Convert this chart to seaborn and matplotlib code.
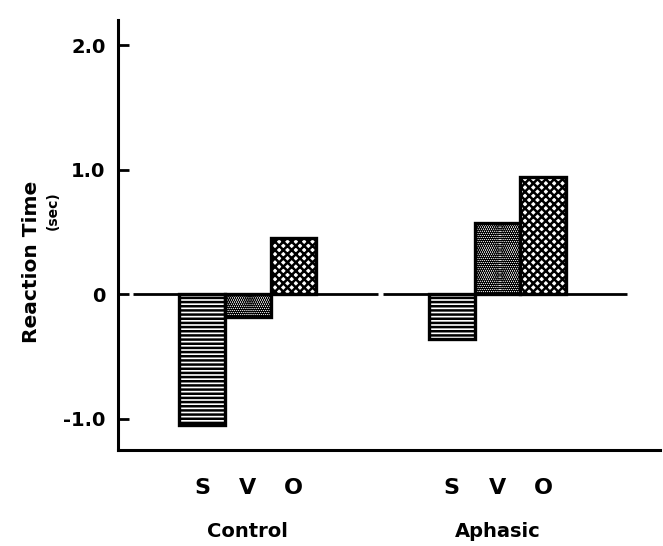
import pandas as pd
import matplotlib
matplotlib.use('Agg')
import matplotlib.pyplot as plt
import seaborn as sns

# Data
groups = ['Control', 'Aphasic']
conditions = ['S', 'V', 'O']
control_rt = [-1.05, -0.18, 0.45]
aphasic_rt = [-0.36, 0.57, 0.94]
hatches = ['----', '........', 'xxxx']
ytick_vals = [-1.0, 0.0, 1.0, 2.0]
ytick_labels = ['-1.0', '0', '1.0', '2.0']


def build_frame():
    rows = []
    for grp, vals in zip(groups, [control_rt, aphasic_rt]):
        for cond, v in zip(conditions, vals):
            rows.append({'group': grp, 'cond': cond, 'rt': v})
    return pd.DataFrame(rows)


def create_barplot(df):
    sns.set_style('white')
    plt.rcParams['font.family'] = ['DejaVu Sans']
    plt.rcParams['hatch.linewidth'] = 1.8
    plt.rcParams['text.color'] = 'black'
    plt.rcParams['xtick.color'] = 'black'
    plt.rcParams['ytick.color'] = 'black'

    fig = plt.figure(figsize=(6.63, 5.46), dpi=100)
    ax = fig.add_axes([0.178, 0.176, 0.817, 0.787])

    sns.barplot(data=df, x='group', y='rt', hue='cond', order=groups,
                hue_order=conditions, palette=['white'] * 3, width=0.55,
                edgecolor='black', linewidth=2.4, legend=False, ax=ax,
                errorbar=None, saturation=1)

    # Hatches per condition
    for cont, h in zip(ax.containers, hatches):
        for bar in cont:
            bar.set_hatch(h)

    # Zero line segments under each group
    for i in range(len(groups)):
        ax.hlines(0, i - 0.46, i + 0.52, color='black', linewidth=2, zorder=0.5)

    # Axes styling
    ax.set_xlim(-0.52, 1.65)
    ax.set_ylim(-1.25, 2.2)
    for s in ['top', 'right']:
        ax.spines[s].set_visible(False)
    for s in ['left', 'bottom']:
        ax.spines[s].set_linewidth(2.2)
        ax.spines[s].set_color('black')

    ax.set_yticks(ytick_vals)
    ax.set_yticklabels(ytick_labels, fontsize=14, fontweight='bold')
    ax.tick_params(axis='y', direction='in', length=8, width=2, pad=9, left=True)

    # Condition letters under bars
    centers, labels = [], []
    for cont, cond in zip(ax.containers, conditions):
        for bar in cont:
            centers.append(bar.get_x() + bar.get_width() / 2)
            labels.append(cond)
    ax.set_xticks(centers)
    ax.set_xticklabels(labels, fontsize=16, fontweight='bold')
    ax.tick_params(axis='x', length=0, pad=20)
    ax.set_xlabel('')
    ax.set_ylabel('')

    # Group names
    for i, grp in enumerate(groups):
        ax.text(i, -0.19, grp, transform=ax.get_xaxis_transform(),
                ha='center', va='center', fontsize=14, fontweight='bold')

    # Y label
    fig.text(0.048, 0.52, 'Reaction Time', rotation=90, ha='center',
             va='center', fontsize=14.5, fontweight='bold')
    fig.text(0.079, 0.615, '(sec)', rotation=90, ha='center',
             va='center', fontsize=10, fontweight='bold')

    plt.savefig('out.png', dpi=100)
    print("Saved barplot")


if __name__ == '__main__':
    df = build_frame()
    create_barplot(df)
